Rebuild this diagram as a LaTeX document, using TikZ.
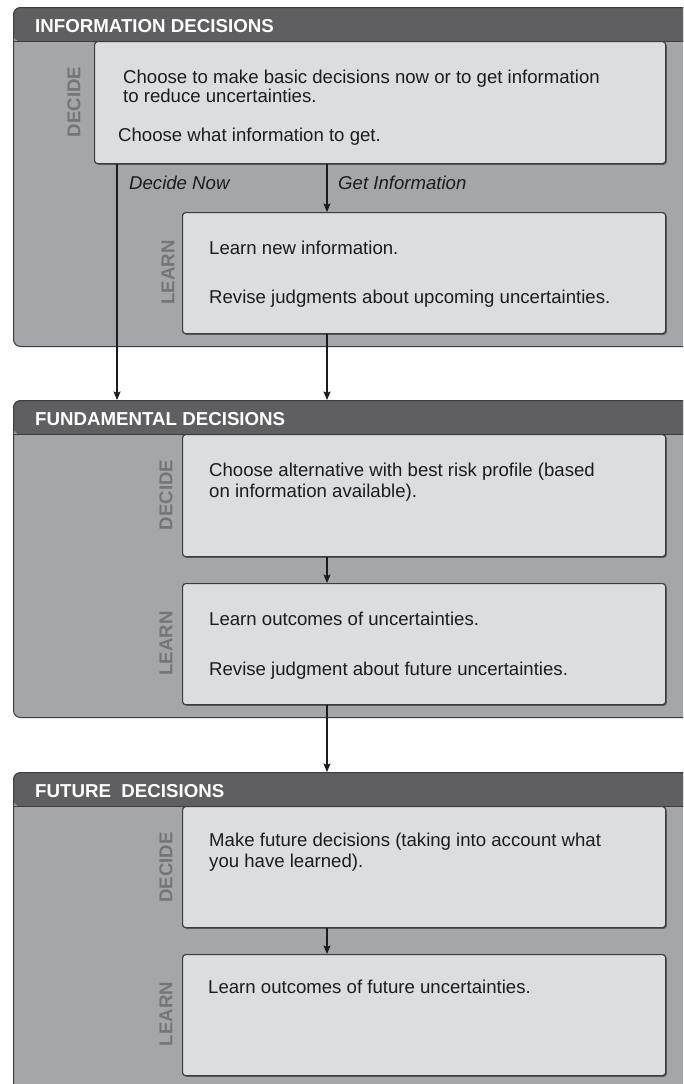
\documentclass[tikz,border=0pt]{standalone}
\usepackage{fontspec}
\setmainfont{Liberation Sans}
\usetikzlibrary{arrows.meta,shadows}
\definecolor{panelc}{HTML}{A5A6A9}
\definecolor{hdrc}{HTML}{5F5F61}
\definecolor{boxc}{HTML}{DCDDDF}
\definecolor{edgec}{HTML}{3C3C3E}
\definecolor{labc}{HTML}{747578}
\definecolor{txtc}{HTML}{1C1C1C}
\tikzset{
  panel/.style={anchor=north west, inner sep=0pt, fill=panelc, draw=edgec, line width=1pt,
    rounded corners=7pt, minimum width=687pt,
    path picture={\fill[hdrc] (path picture bounding box.north west) rectangle ([yshift=-34pt]path picture bounding box.north east);
      \draw[edgec, line width=1.2pt] ([yshift=-34pt]path picture bounding box.north west) -- ([yshift=-34pt]path picture bounding box.north east);}},
  stepbox/.style={anchor=north west, inner sep=0pt, fill=boxc, draw=edgec, line width=1.2pt,
    rounded corners=3pt, minimum width=483pt, minimum height=121pt,
    drop shadow={shadow xshift=1.2pt, shadow yshift=-1.2pt, opacity=0.45, fill=black}},
  hdr/.style={anchor=base west, inner sep=0pt, text=white, font=\fontsize{18.7}{20}\selectfont\bfseries},
  body/.style={anchor=base west, inner sep=0pt, text=txtc, font=\fontsize{18.6}{20}\selectfont},
  ital/.style={body, font=\fontsize{18.6}{20}\selectfont\itshape},
  vlab/.style={rotate=90, inner sep=0pt, text=labc, font=\fontsize{18.6}{20}\selectfont\bfseries},
  arr/.style={draw=txtc, line width=1.3pt, -{Stealth[length=8.5pt,width=7pt,inset=1.5pt]}}
}
\begin{document}
\begin{tikzpicture}[x=1pt,y=-1pt]
\useasboundingbox (0,0) rectangle (683,1084);
\fill[white] (0,0) rectangle (683,1084);
\clip (0,0) rectangle (683,1084);

% panels
\node[panel, minimum height=339pt] (p1) at (13,7) {};
\node[panel, minimum height=317pt] (p2) at (13,400) {};
\node[panel, minimum height=340pt] (p3) at (13,772) {};

% headers
\node[hdr] (h1) at (35,32) {INFORMATION DECISIONS};
\node[hdr] (h2) at (35,425) {FUNDAMENTAL DECISIONS};
\node[hdr] (h3) at (35,797) {FUTURE\ \ DECISIONS};

% boxes
\node[stepbox, minimum width=571pt, minimum height=122pt] (d1) at (94,41) {};
\node[stepbox] (l1) at (182,212) {};
\node[stepbox, minimum height=122pt] (d2) at (182,434) {};
\node[stepbox] (l2) at (182,583) {};
\node[stepbox] (d3) at (182,806) {};
\node[stepbox] (l3) at (182,954) {};

% vertical labels
\node[vlab] (vd1) at (74,102) {DECIDE};
\node[vlab] (vl1) at (168,272.5) {LEARN};
\node[vlab] (vd2) at (166,495) {DECIDE};
\node[vlab] (vl2) at (166,643.5) {LEARN};
\node[vlab] (vd3) at (166,867.5) {DECIDE};
\node[vlab] (vl3) at (166,1014) {LEARN};

% texts
\node[body] (t1a) at (123,83) {Choose to make basic decisions now or to get information};
\node[body] (t1b) at (123,102.5) {to reduce uncertainties.};
\node[body] (t1c) at (118,141.5) {Choose what information to get.};
\node[ital] (dnow) at (129,189) {Decide Now};
\node[ital] (ginf) at (338,189) {Get Information};
\node[body] (t2a) at (209,254) {Learn new information.};
\node[body] (t2b) at (209,303) {Revise judgments about upcoming uncertainties.};
\node[body] (t3a) at (209,476) {Choose alternative with best risk profile (based};
\node[body] (t3b) at (209,497) {on information available).};
\node[body] (t4a) at (209,625) {Learn outcomes of uncertainties.};
\node[body] (t4b) at (209,675) {Revise judgment about future uncertainties.};
\node[body] (t5a) at (209,846) {Make future decisions (taking into account what};
\node[body] (t5b) at (209,867) {you have learned).};
\node[body] (t6a) at (208,993) {Learn outcomes of future uncertainties.};

% connectors
\coordinate (dn) at (117,0);
\coordinate (gi) at (327,0);
\draw[arr] (d1.south -| dn) -- (p2.north -| dn);
\draw[arr] (d1.south -| gi) -- (l1.north -| gi);
\draw[arr] (l1.south -| gi) -- (p2.north -| gi);
\draw[arr] (d2.south -| gi) -- (l2.north -| gi);
\draw[arr] (l2.south -| gi) -- (p3.north -| gi);
\draw[arr] (d3.south -| gi) -- (l3.north -| gi);
\end{tikzpicture}
\end{document}
